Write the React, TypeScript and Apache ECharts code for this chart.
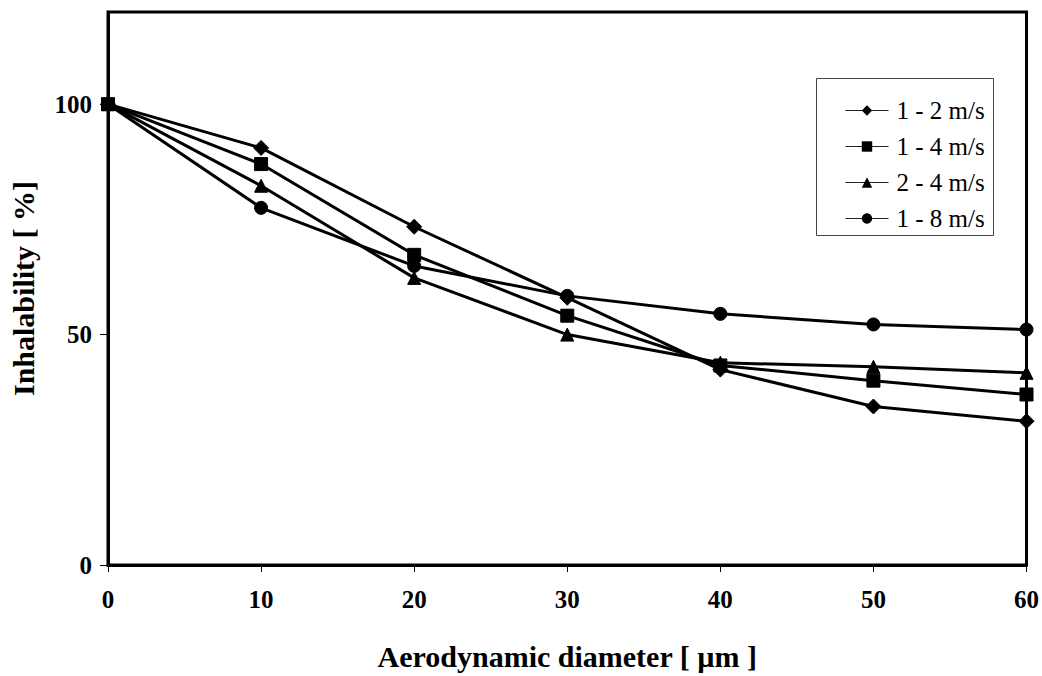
import React, { useEffect, useRef } from "react";
import * as echarts from "echarts";

const xValues = [0, 10, 20, 30, 40, 50, 60];
const s12 = [100, 90.5, 73.4, 58.0, 42.4, 34.4, 31.2];
const s14 = [100, 87.0, 67.3, 54.1, 43.3, 40.0, 37.0];
const s24 = [100, 82.3, 62.3, 50.0, 43.9, 43.0, 41.7];
const s18 = [100, 77.5, 64.9, 58.4, 54.5, 52.2, 51.1];
const seriesNames = ["1 - 2 m/s", "1 - 4 m/s", "2 - 4 m/s", "1 - 8 m/s"];
const symbols = ["diamond", "rect", "triangle", "circle"];
const symbolSizes = [15, 13, 13, 13];
const allData = [s12, s14, s24, s18];

const FONT = "Liberation Serif";

export default function App() {
  const ref = useRef<HTMLDivElement>(null);
  useEffect(() => {
    if (!ref.current) return;
    const chart = echarts.init(ref.current, null, { renderer: "svg" });
    chart.setOption({
      animation: false,
      backgroundColor: "#ffffff",
      textStyle: { fontFamily: FONT },
      grid: { left: 108, right: 14, top: 12, bottom: 108, show: true, borderColor: "#000", borderWidth: 3, backgroundColor: "transparent" },
      graphic: [
        {
          type: "rect",
          left: 816,
          top: 78,
          shape: { width: 177, height: 157 },
          style: { fill: "#fff", stroke: "#444", lineWidth: 1 },
          z: 50,
        },
      ],
      legend: {
        orient: "vertical",
        left: 845,
        top: 98,
        itemWidth: 43,
        itemHeight: 13,
        itemGap: 11,
        padding: 0,
        z: 60,
        lineStyle: { width: 1, color: "#222" },
        itemStyle: { color: "#000", borderColor: "#000" },
        textStyle: { fontFamily: FONT, fontWeight: "normal", fontSize: 25, color: "#000", padding: [0, 0, 0, 3] },
        data: seriesNames,
      },
      xAxis: {
        type: "value",
        min: 0,
        max: 60,
        interval: 10,
        name: "Aerodynamic diameter [ µm ]",
        nameLocation: "middle",
        nameGap: 76,
        nameTextStyle: { fontFamily: FONT, fontWeight: "bold", fontSize: 30, color: "#000" },
        axisLine: { show: true, lineStyle: { color: "#000", width: 3 } },
        axisTick: { show: true, inside: false, length: 7, lineStyle: { color: "#000", width: 1 } },
        axisLabel: { fontFamily: FONT, fontWeight: "bold", fontSize: 25, color: "#000", margin: 22 },
        splitLine: { show: false },
      },
      yAxis: {
        type: "value",
        min: 0,
        max: 120,
        interval: 50,
        name: "Inhalability [ %]",
        nameLocation: "middle",
        nameGap: 70,
        nameTextStyle: { fontFamily: FONT, fontWeight: "bold", fontSize: 30, color: "#000" },
        axisLine: { show: true, lineStyle: { color: "#000", width: 3 } },
        axisTick: { show: true, inside: false, length: 8, lineStyle: { color: "#000", width: 1 } },
        axisLabel: {
          fontFamily: FONT,
          fontWeight: "bold",
          fontSize: 25,
          color: "#000",
          margin: 16,
          showMaxLabel: false,
          formatter: (v: number) => (v > 100 ? "" : String(v)),
        },
        splitLine: { show: false },
      },
      series: allData.map((d, i) => ({
        name: seriesNames[i],
        type: "line",
        data: d.map((v, j) => [xValues[j], v]),
        symbol: symbols[i],
        symbolSize: symbolSizes[i],
        showAllSymbol: true,
        lineStyle: { color: "#000", width: 3 },
        itemStyle: { color: "#000", borderColor: "#000" },
        z: 10 - i,
      })),
    });
    return () => chart.dispose();
  }, []);
  return <div ref={ref} style={{ width: 1042, height: 676, position: "absolute", left: 0, top: 0 }} />;
}
